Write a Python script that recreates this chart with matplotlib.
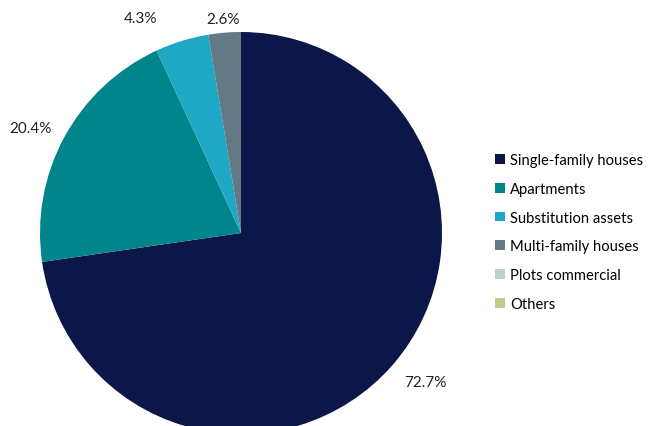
import numpy as np
from matplotlib import pyplot as plt

plt.rcParams['font.family'] = ['Lato', 'DejaVu Sans']

categories = ['Single-family houses', 'Apartments', 'Substitution assets',
              'Multi-family houses', 'Plots commercial', 'Others']
shares = [72.7, 20.4, 4.3, 2.6, 0.0, 0.0]
colors = ['#0B1748', '#00868A', '#1FA7C6', '#637A85', '#B9D3D2', '#C4C88F']

# label placement (distance from centre, angle nudge in degrees)
label_dist = [1.18, 1.17, 1.18, 1.07, 1.1, 1.1]
label_nudge = [2, 2, 8, 0, 0, 0]

fig = plt.figure(figsize=(6.54, 4.27), dpi=100)
ax = fig.add_axes([40 / 654, -8 / 427, 402 / 654, 402 / 427])

wedges, _ = ax.pie(shares, colors=colors, startangle=90, counterclock=False,
                   radius=1.0, wedgeprops={'linewidth': 0})
ax.set_xlim(-1, 1)
ax.set_ylim(-1, 1)
ax.set_aspect('equal')
ax.axis('off')

for w, v, d, n in zip(wedges, shares, label_dist, label_nudge):
    if v <= 0:
        continue
    ang = np.deg2rad((w.theta1 + w.theta2) / 2 + n)
    ax.text(d * np.cos(ang), d * np.sin(ang), '{:.1f}%'.format(v),
            ha='center', va='center', fontsize=11, color='#222222',
            clip_on=False)

fig.legend(wedges, categories, loc='upper left',
           bbox_to_anchor=(482 / 654, 1 - 141 / 427), frameon=False,
           fontsize=10.6, handlelength=0.65, handleheight=0.65,
           handletextpad=0.35, labelspacing=1.0)

fig.savefig('out.png', dpi=100)
